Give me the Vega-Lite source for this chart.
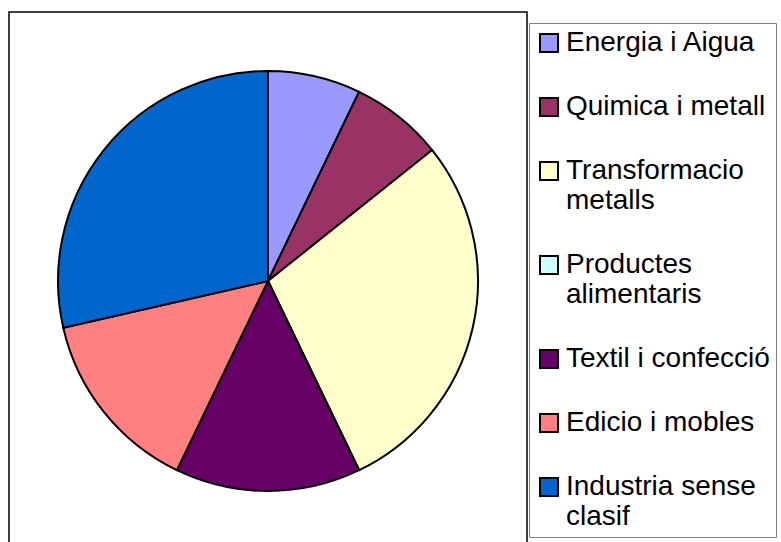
{
  "$schema": "https://vega.github.io/schema/vega-lite/v6.json",
  "autosize": "none",
  "padding": {"left": 9, "top": 12, "right": 254, "bottom": 0},
  "width": 518,
  "height": 538,
  "background": "white",
  "view": {"stroke": "black", "strokeWidth": 1.5},
  "data": {
    "values": [
      {"n": 1, "sector": "Energia i Aigua", "value": 1},
      {"n": 2, "sector": "Quimica i metall", "value": 1},
      {"n": 3, "sector": "Transformacio metalls", "value": 4},
      {"n": 4, "sector": "Productes alimentaris", "value": 0},
      {"n": 5, "sector": "Textil i confecció", "value": 2},
      {"n": 6, "sector": "Edicio i mobles", "value": 2},
      {"n": 7, "sector": "Industria sense clasif", "value": 4}
    ]
  },
  "mark": {"type": "arc", "radius": 210, "stroke": "black", "strokeWidth": 2},
  "encoding": {
    "theta": {"field": "value", "type": "quantitative", "stack": true},
    "order": {"field": "n", "type": "quantitative"},
    "color": {
      "field": "sector",
      "type": "nominal",
      "sort": null,
      "scale": {
        "domain": ["Energia i Aigua", "Quimica i metall", "Transformacio metalls", "Productes alimentaris", "Textil i confecció", "Edicio i mobles", "Industria sense clasif"],
        "range": ["#9999FF", "#993366", "#FFFFCC", "#CCFFFF", "#660066", "#FF8080", "#0066CC"]
      },
      "legend": {
        "title": null,
        "orient": "none",
        "legendX": 520,
        "legendY": 11,
        "padding": 6,
        "strokeColor": "#808080",
        "fillColor": "white",
        "symbolType": "square",
        "symbolSize": 324,
        "symbolStrokeColor": "black",
        "symbolStrokeWidth": 2,
        "symbolOpacity": 1,
        "labelFont": "Liberation Sans",
        "labelFontSize": 28,
        "labelColor": "black",
        "labelOffset": 3,
        "labelLimit": 400,
        "rowPadding": 36,
        "labelExpr": "datum.label == 'Transformacio metalls' ? ['Transformacio', 'metalls'] : datum.label == 'Productes alimentaris' ? ['Productes', 'alimentaris'] : datum.label == 'Industria sense clasif' ? ['Industria sense', 'clasif'] : datum.label"
      }
    }
  },
  "config": {
    "view": {"stroke": "black", "strokeWidth": 1.5},
    "style": {"guide-label": {"lineHeight": 30}}
  }
}
